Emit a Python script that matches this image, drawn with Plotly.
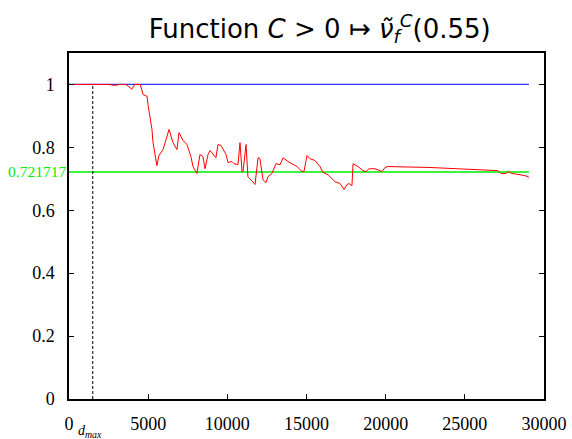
import plotly.graph_objects as go

# Estimated nu_f^C(0.55) as a function of the cutoff C
c_values = [0, 500, 1000, 1500, 2000, 2500, 2900, 3200, 3600, 3970, 4150, 4500,
            4680, 4930, 4990, 5240, 5300, 5550, 5680, 5940, 6320, 6570, 6820, 6950,
            7200, 7450, 7700, 7830, 8080, 8270, 8460, 8590, 8780, 8910, 9280, 9410,
            9600, 9920, 10040, 10290, 10420, 10670, 10800, 10930, 10990, 11180, 11300,
            11750, 11940, 12060, 12250, 12440, 12570, 12820, 13070, 13330, 13520,
            13830, 14400, 14720, 14840, 15030, 15220, 15540, 15850, 16040, 16360,
            16800, 17120, 17370, 17560, 17680, 17870, 17940, 18250, 18570, 18760,
            18950, 19330, 19580, 19770, 19960, 20150, 22800, 27100, 27280, 27600,
            27730, 27980, 28480, 28800, 29050]
nu_values = [1.0, 1.0, 1.0, 1.0, 1.0, 1.0, 0.997, 1.0, 1.0, 0.985, 1.0, 1.0,
             0.968, 0.962, 0.936, 0.857, 0.818, 0.742, 0.774, 0.793, 0.857, 0.815, 0.793, 0.847,
             0.822, 0.809, 0.771, 0.739, 0.717, 0.777, 0.771, 0.732, 0.777, 0.790, 0.767, 0.809,
             0.806, 0.777, 0.752, 0.755, 0.748, 0.745, 0.815, 0.723, 0.723, 0.809, 0.707,
             0.682, 0.767, 0.764, 0.697, 0.688, 0.707, 0.717, 0.748, 0.745, 0.767,
             0.755, 0.739, 0.723, 0.723, 0.774, 0.764, 0.758, 0.739, 0.720, 0.713,
             0.691, 0.685, 0.666, 0.682, 0.685, 0.678, 0.748, 0.739, 0.726, 0.723,
             0.732, 0.732, 0.726, 0.723, 0.736, 0.739, 0.736, 0.726, 0.717, 0.717,
             0.723, 0.717, 0.713, 0.710, 0.705]

limit_value = 0.721717
d_max = 1500
c_end = 29050

x_ticks = [0, 5000, 10000, 15000, 20000, 25000, 30000]
y_ticks = [0, 0.2, 0.4, 0.6, 0.8, 1]
y_tick_text = ["0", "0.2", "0.4", "0.6", "0.8", "1"]

serif = "Liberation Serif"

fig = go.Figure()

# reference level 1
fig.add_trace(go.Scatter(x=[0, c_end], y=[1, 1], mode="lines",
                         line=dict(color="#3030ff", width=1.3), hoverinfo="skip"))
# asymptotic value
fig.add_trace(go.Scatter(x=[0, c_end], y=[limit_value, limit_value], mode="lines",
                         line=dict(color="#00ee00", width=1.5), hoverinfo="skip"))
# measured curve
fig.add_trace(go.Scatter(x=c_values, y=nu_values, mode="lines",
                         line=dict(color="#ff0000", width=1)))
# d_max marker
fig.add_trace(go.Scatter(x=[d_max, d_max], y=[0, 1], mode="lines",
                         line=dict(color="black", width=1, dash="3px,2px"), hoverinfo="skip"))

fig.update_layout(
    width=572, height=439,
    margin=dict(l=69, r=28, t=53, b=40),
    plot_bgcolor="white", paper_bgcolor="white",
    showlegend=False,
    title=dict(
        text="Function <i>C</i> > 0 ↦ <i>ν̃</i><sub><i>f</i></sub><sup><i>C</i></sup>(0.55)",
        x=0.559, xanchor="center", y=0.935, yanchor="middle",
        font=dict(family="DejaVu Sans", size=26, color="black"),
    ),
    xaxis=dict(
        range=[0, 30000], tickvals=x_ticks, ticktext=[str(v) for v in x_ticks],
        ticks="inside", ticklen=5, tickcolor="black", tickwidth=1,
        showline=True, linecolor="black", linewidth=1.5, mirror=True,
        showgrid=False, zeroline=False, ticklabelstandoff=8, automargin=False,
        tickfont=dict(family=serif, size=18, color="black"),
    ),
    yaxis=dict(
        range=[0, 1.1], tickvals=y_ticks, ticktext=y_tick_text,
        ticks="inside", ticklen=5, tickcolor="black", tickwidth=1,
        showline=True, linecolor="black", linewidth=1.5, mirror="ticks",
        showgrid=False, zeroline=False, ticklabelstandoff=9, automargin=False,
        tickfont=dict(family=serif, size=18, color="black"),
    ),
    annotations=[
        dict(x=0, xref="paper", y=limit_value, yref="y", text=f"{limit_value:g}",
             xanchor="right", yanchor="middle", xshift=-1, showarrow=False,
             font=dict(family=serif, size=15.5, color="#00ee00")),
        dict(x=d_max, xref="x", y=0, yref="y", text="<i>d</i><sub><i>max</i></sub>",
             xanchor="center", yanchor="top", yshift=-22, xshift=-3, showarrow=False,
             font=dict(family=serif, size=14, color="black")),
    ],
)

fig.write_html("out.html")
